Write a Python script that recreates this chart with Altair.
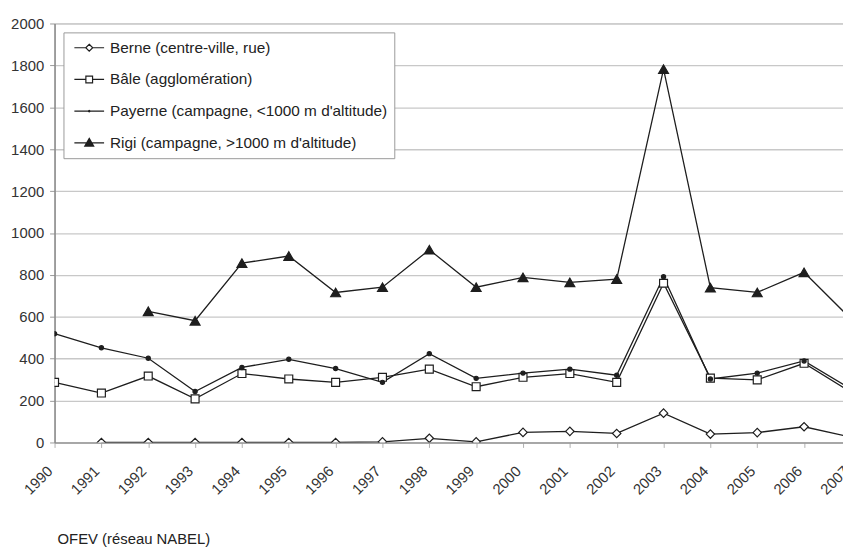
import altair as alt
import pandas as pd

years = list(range(1990, 2008))
series_names = [
    "Berne (centre-ville, rue)",
    "Bâle (agglomération)",
    "Payerne (campagne, <1000 m d'altitude)",
    "Rigi (campagne, >1000 m d'altitude)",
]
berne = [None, 0, 0, 0, 0, 0, 0, 3, 20, 3, 48, 53, 43, 140, 40, 47, 75, 25]
bale = [287, 236, 317, 208, 329, 303, 287, 311, 350, 266, 311, 329, 287, 760, 307, 299, 378, 240]
payerne = [519, 452, 402, 243, 358, 397, 353, 287, 424, 306, 331, 350, 321, 791, 303, 331, 389, 255]
rigi = [None, None, 626, 581, 856, 890, 716, 741, 920, 741, 788, 764, 780, 1782, 739, 716, 812, 590]
y_ticks = list(range(0, 2001, 200))
source_note = "OFEV (réseau NABEL)"

rows = []
for name, vals in zip(series_names, [berne, bale, payerne, rigi]):
    for yr, v in zip(years, vals):
        if v is not None:
            rows.append({"year": yr, "value": v, "series": name})
df = pd.DataFrame(rows)

INK = "#1e1e1e"
marker_shapes = ["diamond", "square", "circle", "triangle-up"]
marker_fills = ["white", "white", INK, INK]
marker_sizes = [72, 64, 18, 100]
# legend symbols: short line with the marker drawn on it (stroke only)
legend_shapes = [
    "M-2,0H-0.47M0.47,0H2M0,-0.47L0.47,0L0,0.47L-0.47,0Z",
    "M-2,0H-0.45M0.45,0H2M-0.45,-0.45H0.45V0.45H-0.45Z",
    "M-2,0H2M-0.1,0A0.1,0.1 0 1,0 0.1,0A0.1,0.1 0 1,0 -0.1,0Z",
    "M-2,0H2M0,-0.6L0.6,0.45H-0.6ZM0,-0.4L0.4,0.3H-0.4ZM0,-0.2L0.2,0.15H-0.2Z",
]

x_enc = alt.X(
    "year:Q",
    scale=alt.Scale(domain=[1990, 2007], nice=False, zero=False),
    axis=alt.Axis(
        values=years, format="d", labelAngle=315, labelAlign="right",
        labelBaseline="middle", tickSize=5, labelPadding=21, labelOffset=-5,
        grid=False, title=None, domainColor="#9a9a9a", domainWidth=1.5,
        tickColor="#b0b0b0", labelFontSize=15, labelColor="#333333",
    ),
)
y_enc = alt.Y(
    "value:Q",
    scale=alt.Scale(domain=[0, 2000], nice=False),
    axis=alt.Axis(
        values=y_ticks, format="d", tickSize=5, labelPadding=6, title=None,
        gridColor="#c8c8c8", gridWidth=1.3, domainColor="#8a8a8a", domainWidth=1.5,
        tickColor="#9a9a9a", labelFontSize=15, labelColor="#333333",
    ),
)

base = alt.Chart(df)

lines = base.mark_line(color=INK, strokeWidth=1.3, clip=True).encode(
    x=x_enc, y=y_enc, detail="series:N"
)

point_layers = []
for name, shp, fil, sz in zip(series_names, marker_shapes, marker_fills, marker_sizes):
    point_layers.append(
        base.transform_filter(alt.datum.series == name)
        .mark_point(shape=shp, size=sz, filled=True, fill=fil, stroke=INK,
                    strokeWidth=1.2, opacity=1, clip=True)
        .encode(x=x_enc, y=y_enc)
    )

leg = alt.Legend(
    title=None, orient="none", legendX=9, legendY=9,
    strokeColor="#9a9a9a", fillColor="white", padding=7,
    labelFont="Liberation Sans", labelFontSize=15.5, labelColor="#222222",
    labelLimit=0,
    symbolSize=225, symbolStrokeWidth=1.2, symbolStrokeColor=INK,
    symbolFillColor="white", symbolOpacity=1, rowPadding=15,
    labelOffset=12.5, symbolOffset=10.5,
)

carrier = base.transform_filter("false").mark_point(
    filled=False, color=INK, strokeWidth=1.2, opacity=1
).encode(
    x=x_enc,
    y=y_enc,
    shape=alt.Shape("series:N", scale=alt.Scale(domain=series_names, range=legend_shapes), legend=leg),
)

chart = (
    alt.layer(lines, *point_layers, carrier)
    .properties(
        width=804,
        height=423,
        padding={"left": 47, "top": 13, "right": -8, "bottom": 112},
        autosize=alt.AutoSizeParams(type="none"),
        title=alt.TitleParams(
            source_note, orient="bottom", anchor="start", frame="group",
            fontSize=15, fontWeight="normal", font="Liberation Sans",
            color="#222222", offset=35, dx=3,
        ),
    )
    .configure(font="Liberation Sans")
    .configure_view(stroke="#bdbdbd", strokeWidth=1)
)

chart.save("out.html", embed_options={"renderer": "svg", "actions": False})
